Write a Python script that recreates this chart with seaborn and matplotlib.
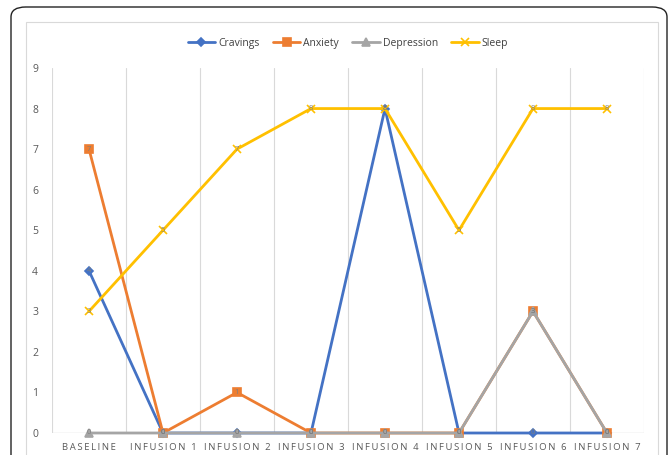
import matplotlib
matplotlib.use("Agg")
import matplotlib.pyplot as plt
import seaborn as sns
import pandas as pd
from matplotlib.patches import FancyBboxPatch, Rectangle

categories = ["BASELINE", "INFUSION 1", "INFUSION 2", "INFUSION 3",
              "INFUSION 4", "INFUSION 5", "INFUSION 6", "INFUSION 7"]
cravings = [4, 0, 0, 0, 8, 0, 0, 0]
anxiety = [7, 0, 1, 0, 0, 0, 3, 0]
depression = [0, 0, 0, 0, 0, 0, 3, 0]
sleep = [3, 5, 7, 8, 8, 5, 8, 8]

series_names = ["Cravings", "Anxiety", "Depression", "Sleep"]
series_values = [cravings, anxiety, depression, sleep]
colors = ["#4472C4", "#ED7D31", "#A5A5A5", "#FFC000"]
markers = ["D", "s", "^", "x"]
msizes = [4, 5.5, 5.5, 6]

rows = []
for name, vals in zip(series_names, series_values):
    for i, v in enumerate(vals):
        rows.append({"idx": i, "value": v, "series": name})
df = pd.DataFrame(rows)

sns.set_theme(style="white")
plt.rcParams["font.family"] = ["Open Sans", "DejaVu Sans"]

fig = plt.figure(figsize=(6.7, 4.55), dpi=100)
W, H = 670, 455

# outer rounded frame
frame = FancyBboxPatch((11 / W, -0.05), 656 / W, (455 - 7) / H + 0.05,
                       boxstyle="round,pad=0,rounding_size=0.022",
                       transform=fig.transFigure, fill=False,
                       edgecolor="#222222", linewidth=1.0, zorder=0)
fig.patches.append(frame)
# inner chart area border
inner = Rectangle((26 / W, -0.05), (658 - 26) / W, (455 - 22) / H + 0.05,
                  transform=fig.transFigure, fill=False,
                  edgecolor="#D9D9D9", linewidth=0.8, zorder=0)
fig.patches.append(inner)

ax = fig.add_axes([52 / W, 1 - 433 / H, (644 - 52) / W, (433 - 68) / H])

for name, col, mk, ms in zip(series_names, colors, markers, msizes):
    sub = df[df["series"] == name]
    sns.lineplot(data=sub, x="idx", y="value", ax=ax, color=col,
                 linewidth=2.0, marker=mk, markersize=ms,
                 markeredgecolor=col, markerfacecolor=col,
                 markeredgewidth=1.2, label=name, zorder=3, clip_on=False)
    for i, v in zip(sub["idx"], sub["value"]):
        ax.text(i, v, f"{v}", ha="center", va="center", fontsize=5.5,
                color="#7F7F7F", zorder=5)

ax.set_xlim(-0.5, 7.5)
ax.set_ylim(0, 9)
ax.set_yticks(range(0, 10))
ax.set_yticklabels([str(i) for i in range(10)], fontsize=7.5, color="#595959")
ax.set_xticks(range(len(categories)))
spaced = ["\u2009".join(list(c)) for c in categories]
ax.set_xticklabels(spaced, fontsize=6.8, color="#595959")
ax.tick_params(axis="both", length=0)
ax.tick_params(axis="x", pad=7)
ax.tick_params(axis="y", pad=10)
ax.set_xlabel("")
ax.set_ylabel("")

for xb in [i - 0.5 for i in range(len(categories) + 1)]:
    ax.axvline(xb, color="#D9D9D9", linewidth=0.8, zorder=1)
ax.axhline(0, color="#D9D9D9", linewidth=1.0, zorder=1)

for s in ax.spines.values():
    s.set_visible(False)

leg = ax.legend(loc="lower center", bbox_to_anchor=(0.5, 1.026), ncol=4,
                frameon=False, fontsize=7.5, handlelength=2.6,
                columnspacing=1.3, handletextpad=0.3)
for t in leg.get_texts():
    t.set_color("#404040")

fig.savefig("out.png", dpi=100)
